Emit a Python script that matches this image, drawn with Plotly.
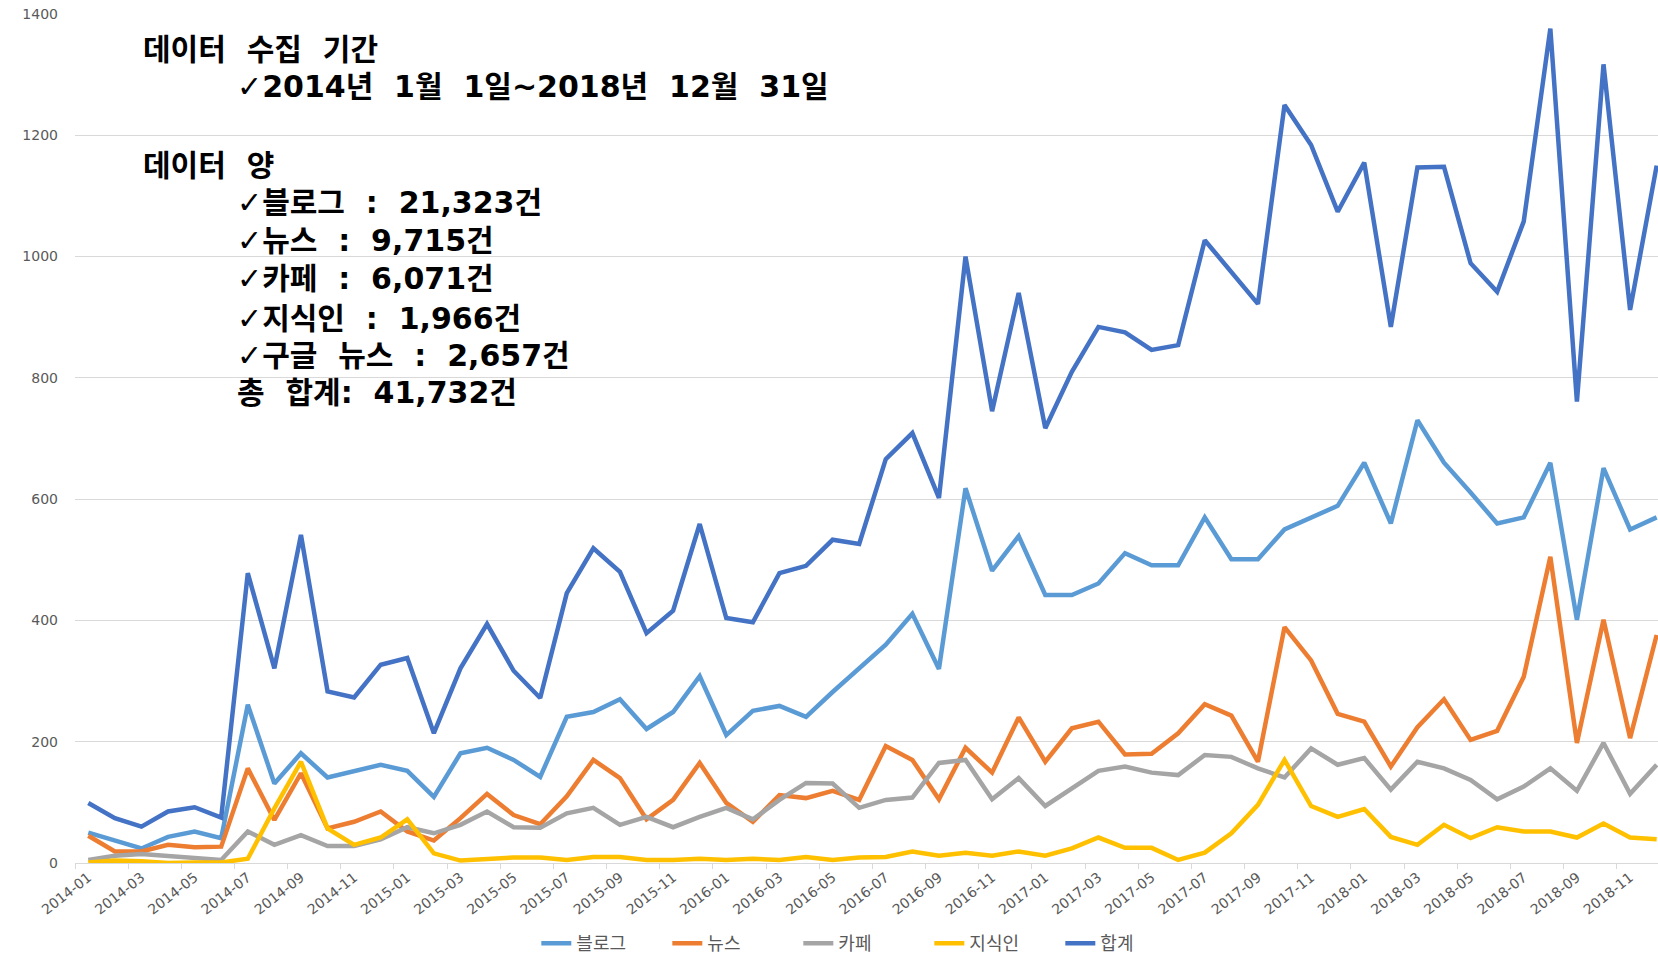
import plotly.graph_objects as go

# ---- data ----
months = [f"{y}-{m:02d}" for y in range(2014, 2019) for m in range(1, 13)]

blog = [50, 37, 24, 43, 52, 41, 261, 131, 181, 141, 152, 162,
        152, 109, 181, 190, 170, 142, 241, 249, 270, 221, 249, 308,
        211, 251, 259, 241, 282, 321, 360, 411, 320, 618, 482, 539,
        442, 442, 461, 511, 491, 491, 570, 501, 501, 550, 570, 589,
        660, 560, 730, 660, 611, 560, 570, 660, 401, 651, 550, 570]

news = [45, 19, 19, 30, 26, 27, 156, 71, 148, 57, 68, 85,
        52, 37, 74, 114, 79, 64, 110, 170, 140, 72, 104, 165,
        99, 68, 112, 107, 119, 104, 193, 170, 105, 190, 149, 240,
        167, 222, 233, 179, 180, 214, 262, 243, 167, 389, 334, 246,
        233, 159, 224, 270, 203, 218, 307, 505, 198, 401, 206, 376]

cafe = [5, 12, 15, 12, 9, 5, 52, 30, 46, 28, 28, 39,
        59, 49, 63, 85, 59, 58, 82, 91, 63, 76, 59, 76,
        91, 72, 104, 132, 131, 91, 104, 108, 165, 170, 105, 140,
        94, 123, 152, 159, 149, 145, 178, 175, 156, 141, 189, 162,
        173, 121, 167, 156, 137, 105, 126, 156, 119, 198, 114, 162]

jisikin = [1, 4, 3, 0, 1, 1, 7, 90, 167, 57, 30, 42,
           72, 16, 4, 7, 9, 9, 5, 10, 10, 5, 5, 7,
           5, 7, 5, 10, 5, 9, 10, 19, 12, 17, 12, 19,
           12, 24, 42, 25, 25, 5, 17, 49, 96, 170, 94, 76,
           89, 43, 30, 63, 41, 59, 52, 52, 42, 65, 42, 39]

total = [99, 74, 60, 85, 92, 75, 478, 321, 541, 283, 273, 327,
         338, 214, 321, 394, 317, 272, 445, 519, 480, 379, 416, 559,
         404, 397, 478, 490, 533, 526, 666, 709, 602, 1000, 745, 940,
         717, 810, 884, 875, 846, 854, 1027, 975, 922, 1250, 1184, 1074,
         1155, 884, 1147, 1148, 989, 942, 1058, 1376, 761, 1317, 912, 1150]

series_names = ["블로그", "뉴스", "카페", "지식인", "합계"]
series_values = [blog, news, cafe, jisikin, total]
series_colors = ["#5B9BD5", "#ED7D31", "#A5A5A5", "#FFC000", "#4472C4"]

text_lines = [
    ("데이터 수집 기간", 141, 50),
    ("✓2014년 1월 1일~2018년 12월 31일", 235, 87),
    ("데이터 양", 141, 165),
    ("✓블로그 : 21,323건", 235, 202),
    ("✓뉴스 : 9,715건", 235, 240),
    ("✓카페 : 6,071건", 235, 278),
    ("✓지식인 : 1,966건", 235, 318),
    ("✓구글 뉴스 : 2,657건", 235, 355),
    ("총 합계: 41,732건", 235, 393),
]

# ---- layout geometry (pixels) ----
W, H = 1658, 959
ML, MR, MT, MB = 75, 0, 14, 96
PW, PH = W - ML - MR, H - MT - MB

fig = go.Figure()
for name, vals, color in zip(series_names, series_values, series_colors):
    fig.add_trace(go.Scatter(x=months, y=vals, mode="lines", name=name,
                             line=dict(color=color, width=4.5)))

NBSP = "\u00a0"
annotations = []
for txt, px, py in text_lines:
    annotations.append(dict(
        text=txt.replace(" ", NBSP + NBSP), xref="paper", yref="paper",
        x=(px - ML) / PW, y=(H - MB - py) / PH,
        xanchor="left", yanchor="middle", showarrow=False,
        font=dict(family="DejaVu Sans, Noto Sans CJK KR", size=30,
                  color="#000000", weight="bold"),
    ))

fig.update_layout(
    width=W, height=H,
    margin=dict(l=ML, r=MR, t=MT, b=MB, pad=0),
    plot_bgcolor="white", paper_bgcolor="white",
    font=dict(family="DejaVu Sans, Noto Sans CJK KR", color="#595959"),
    showlegend=True,
    legend=dict(orientation="h", xref="container", yref="container",
                x=0.521, y=0.016, xanchor="center", yanchor="middle",
                entrywidth=86, entrywidthmode="pixels",
                font=dict(family="Noto Sans CJK KR", size=18, color="#595959"),
                bgcolor="rgba(0,0,0,0)"),
    annotations=annotations,
    xaxis=dict(type="category", range=[-0.5, 59.05], tickson="boundaries",
               dtick=2, tick0=0, ticks="outside", ticklen=5, tickcolor="#D9D9D9",
               showline=True, linecolor="#D9D9D9", linewidth=1, showgrid=False,
               tickangle=-38, tickfont=dict(size=14, color="#595959")),
    yaxis=dict(range=[0, 1400], dtick=200, showgrid=True, gridcolor="#D9D9D9",
               gridwidth=1, zeroline=False, showline=False, ticks="",
               ticklabelstandoff=16, tickfont=dict(size=14, color="#595959")),
)

fig.write_html("out.html", config={"displayModeBar": False},
               post_script="document.body.style.margin='0';document.body.style.overflow='hidden';")
